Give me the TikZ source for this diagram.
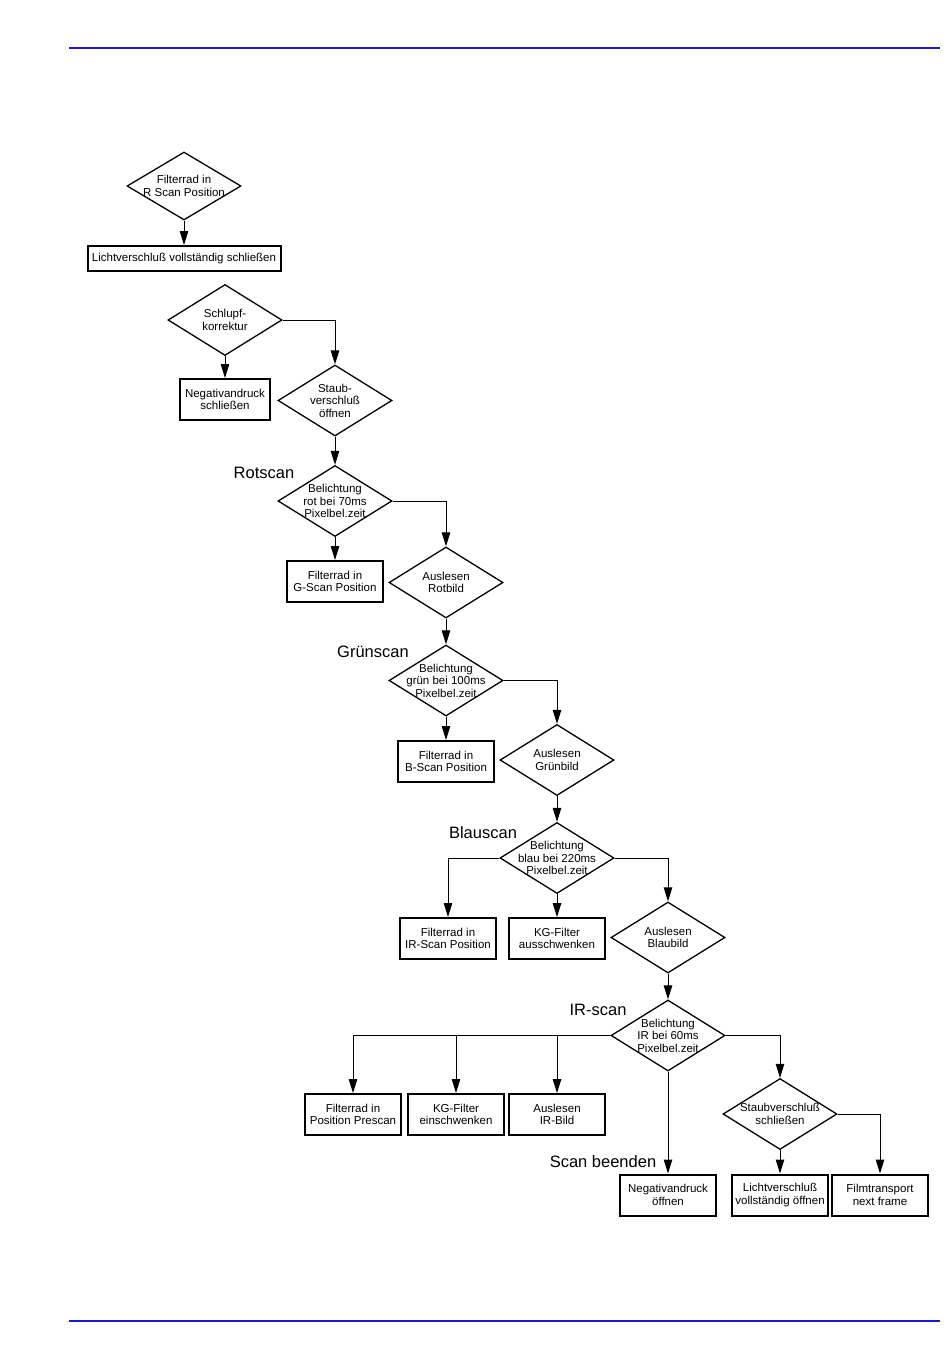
\documentclass[tikz,border=0pt]{standalone}
\usepackage{fontspec}
\setmainfont{Liberation Sans}
\usepackage{xcolor}
\usetikzlibrary{shapes.geometric,arrows.meta,positioning}

\definecolor{rulecol}{RGB}{25,25,205}
\newcommand{\smalltxt}{\fontsize{11.5}{12.5}\selectfont}
\newcommand{\phasetxt}{\fontsize{16.5}{19}\selectfont}

\tikzset{
    decision/.style={diamond, draw, line width=1.3pt, minimum width=114pt, minimum height=71pt, inner sep=0pt,
        label={[align=center, font=\smalltxt]center:#1}},
    action/.style={rectangle, draw, line width=2pt, minimum width=96pt, minimum height=41pt,
        inner sep=2pt, align=center, font=\smalltxt},
    phase/.style={font=\phasetxt},
    corner/.style={to path={-| (\tikztotarget) \tikztonodes}}
}

\begin{document}
\begin{tikzpicture}[x=1pt, y=-1pt, line width=1pt, >={Triangle[length=14pt, width=8.5pt]}]

    \useasboundingbox (0,0) rectangle (950,1370);
    \draw[rulecol, line width=1.6pt] (69,48) -- (940,48);
    \draw[rulecol, line width=1.6pt] (69,1321) -- (940,1321);

    \node[decision={Filterrad in\\R Scan Position}, minimum height=68pt] (rpos) at (184,186) {};
    \node[action, minimum width=193pt, minimum height=25pt] (lvs) at (184,258.5) {Lichtverschluß vollständig schließen};
    \node[decision={Schlupf-\\korrektur}] (slip) at (225,320) {};
    \node[action, minimum width=90pt] (nds) at (225,399.5) {Negativandruck\\schließen};
    \node[decision={Staub-\\verschluß\\öffnen}] (sto) at (335,400.5) {};

    \node[phase] (rotlbl) at (264,473) {Rotscan};
    \node[decision={Belichtung\\rot bei 70ms\\Pixelbel.zeit}] (rot) at (335,501) {};
    \node[action] (gpos) at (335,581.5) {Filterrad in\\G-Scan Position};
    \node[decision={Auslesen\\Rotbild}] (rread) at (446,582.5) {};

    \node[phase] (gruenlbl) at (373,652) {Grünscan};
    \node[decision={Belichtung\\grün bei 100ms\\Pixelbel.zeit}] (gruen) at (446,680.5) {};
    \node[action] (bpos) at (446,761.5) {Filterrad in\\B-Scan Position};
    \node[decision={Auslesen\\Grünbild}] (gread) at (557,760) {};

    \node[phase] (blaulbl) at (483,833) {Blauscan};
    \node[decision={Belichtung\\blau bei 220ms\\Pixelbel.zeit}] (blau) at (557,858) {};
    \node[action] (irpos) at (448,938.5) {Filterrad in\\IR-Scan Position};
    \node[action] (kgaus) at (557,938.5) {KG-Filter\\ausschwenken};
    \node[decision={Auslesen\\Blaubild}] (bread) at (668,937.5) {};

    \node[phase] (irlbl) at (598,1010) {IR-scan};
    \node[decision={Belichtung\\IR bei 60ms\\Pixelbel.zeit}] (ir) at (668,1035.5) {};
    \node[action] (prepos) at (353,1114.5) {Filterrad in\\Position Prescan};
    \node[action] (kgein) at (456,1114.5) {KG-Filter\\einschwenken};
    \node[action] (irread) at (557,1114.5) {Auslesen\\IR-Bild};
    \node[decision={Staubverschluß\\schließen}] (stc) at (780,1114) {};

    \node[phase] (endlbl) at (603,1162) {Scan beenden};
    \node[action] (ndo) at (668,1195) {Negativandruck\\öffnen};
    \node[action] (lvo) at (780,1195) {Lichtverschluß\\vollständig öffnen};
    \node[action] (film) at (880,1195) {Filmtransport\\next frame};

    \path[->]
        (rpos) edge (lvs)
        (slip) edge (nds)
        (slip) edge[corner] (sto)
        (sto) edge (rot)
        (rot) edge (gpos)
        (rot) edge[corner] (rread)
        (rread) edge (gruen)
        (gruen) edge (bpos)
        (gruen) edge[corner] (gread)
        (gread) edge (blau)
        (blau) edge[corner] (irpos)
        (blau) edge (kgaus)
        (blau) edge[corner] (bread)
        (bread) edge (ir)
        (ir) edge[corner] (prepos)
        (ir) edge[corner] (kgein)
        (ir) edge[corner] (irread)
        (ir) edge (ndo)
        (ir) edge[corner] (stc)
        (stc) edge (lvo)
        (stc) edge[corner] (film);

\end{tikzpicture}
\end{document}
